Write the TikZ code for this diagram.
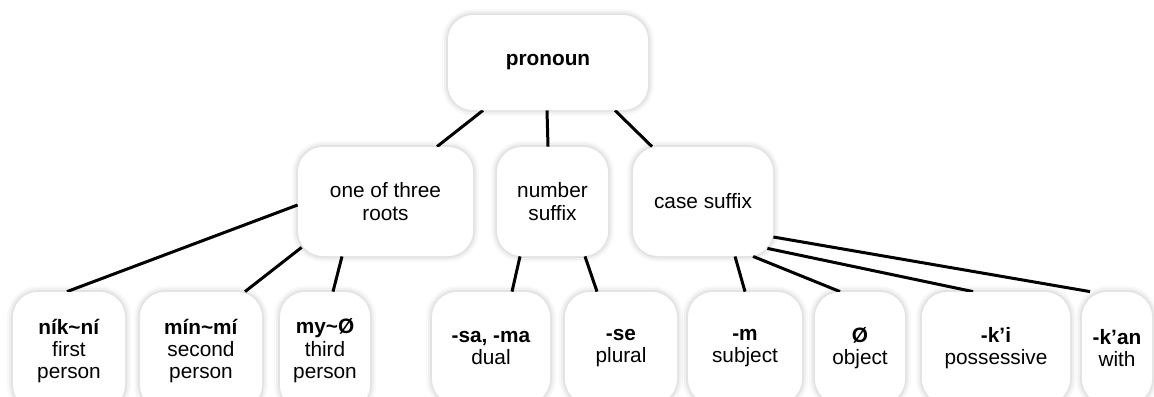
\documentclass[tikz,border=0pt]{standalone}
\usepackage{fontspec}
\setmainfont{Liberation Sans}
\usetikzlibrary{calc}
\pgfdeclarelayer{back}
\pgfdeclarelayer{lines}
\pgfsetlayers{back,lines,main}
\begin{document}
\begin{tikzpicture}[x=0.5pt, y={(0pt,-0.5pt)},
  box/.style={fill=white, rounded corners=12.5pt, inner sep=0pt, align=center,
    font=\fontsize{10.4}{11.2}\selectfont,
    preaction={draw=black, draw opacity=0.025, line width=6pt},
    preaction={draw=black, draw opacity=0.035, line width=4pt},
    preaction={draw=black, draw opacity=0.05, line width=2pt}},
  link/.style={line width=1.5pt, black}]
\useasboundingbox (0,0) rectangle (1154,396);
\begin{pgfonlayer}{back}
  \fill[white] (0,0) rectangle (1154,396);
\end{pgfonlayer}
\clip (0,0) rectangle (1154,396);
% top
\node[box, minimum width=100pt, minimum height=47.5pt] (pron) at (548,62.5) {\textbf{pronoun}};
% middle
\node[box, minimum width=87.5pt, minimum height=54.5pt] (roots) at (385.5,201.5) {one of three\\roots};
\node[box, minimum width=55.5pt, minimum height=54.5pt] (num) at (552.5,201.5) {number\\suffix};
\node[box, minimum width=70pt, minimum height=54.5pt] (case) at (703,201.5) {case suffix};
% bottom
\node[box, minimum width=56pt, minimum height=59pt] (b1) at (69,351) {\textbf{ník\textasciitilde ní}\\first\\person};
\node[box, minimum width=61pt, minimum height=59pt] (b2) at (201,351) {\textbf{mín\textasciitilde mí}\\second\\person};
\node[box, minimum width=45pt, minimum height=59pt] (b3) at (325,351) {\textbf{my\textasciitilde Ø}\\third\\person};
\node[box, minimum width=59pt, minimum height=56pt] (b4) at (491,348) {\textbf{-sa, -ma}\\dual};
\node[box, minimum width=56pt, minimum height=56pt] (b5) at (621,348) {\textbf{-se}\\plural};
\node[box, minimum width=57pt, minimum height=56pt] (b6) at (745,348) {\textbf{-m}\\subject};
\node[box, minimum width=45pt, minimum height=56pt] (b7) at (860,348) {\textbf{Ø}\\object};
\node[box, minimum width=74pt, minimum height=56pt] (b8) at (996,348) {\textbf{-k’i}\\possessive};
\node[box, minimum width=35pt, minimum height=56pt] (b9) at (1117,348) {\textbf{-k’an}\\with};
\begin{pgfonlayer}{lines}
  \draw[link] ($(pron.south)+(-65,0)$) -- ($(roots.north)+(51.5,0)$);
  \draw[link] ($(pron.south)+(-1,0)$) -- ($(num.north)+(-4.5,0)$);
  \draw[link] ($(pron.south)+(67,0)$) -- ($(case.north)+(-51,0)$);
  \draw[link] ($(roots.west)+(0,3.5)$) -- ($(b1.north)+(-2,0)$);
  \draw[link] ($(roots.south west)+(4,-9)$) -- ($(b2.north)+(44,0)$);
  \draw[link] ($(roots.south)+(-43.5,0)$) -- ($(b3.north)+(8,0)$);
  \draw[link] ($(num.south)+(-32.5,0)$) -- ($(b4.north)+(21,0)$);
  \draw[link] ($(num.south)+(32.5,0)$) -- ($(b5.north)+(-24,0)$);
  \draw[link] ($(case.south)+(32,0)$) -- (b6.north);
  \draw[link] ($(case.south)+(50,0)$) -- ($(b7.north)+(-20,0)$);
  \draw[link] ($(case.south east)+(-6,-8)$) -- ($(b8.north)+(-23,0)$);
  \draw[link] ($(case.east)+(0,35.5)$) -- ($(b9.north)+(-27,0)$);
\end{pgfonlayer}
\end{tikzpicture}
\end{document}
